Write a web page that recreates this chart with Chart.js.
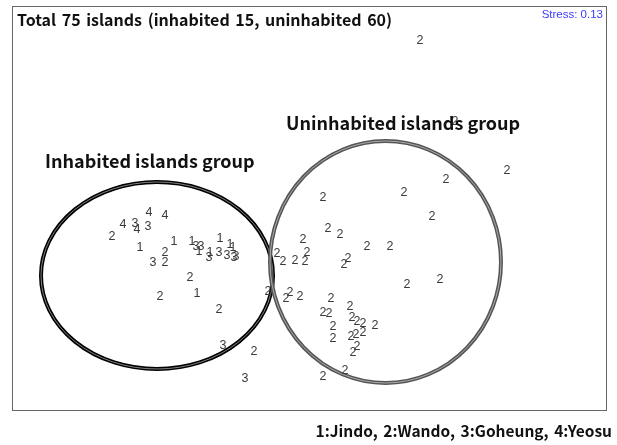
<!DOCTYPE html>
<html>
<head>
<meta charset="utf-8">
<script src="https://cdn.jsdelivr.net/npm/chart.js@4"></script>
<style>
    body { margin: 0; background: #fff; }
    #wrap { position: relative; width: 617px; height: 445px; }
    .note { position: absolute; white-space: nowrap; font-family: "Noto Sans CJK KR", "Noto Sans", sans-serif; color: #111; }
    #title { left: 17px; top: 7px; font-size: 16px; font-weight: bold; word-spacing: 2px; }
    #stress { right: 14px; top: 8px; font-size: 11.5px; color: #3b3bff; font-family: "Liberation Sans", sans-serif; }
    #grpA { left: 45px; top: 147px; font-size: 18px; font-weight: bold; }
    #grpB { left: 286px; top: 109px; font-size: 18px; font-weight: bold; }
    #key { right: 5px; top: 419px; font-size: 15.5px; font-weight: bold; word-spacing: 2px; }
</style>
</head>
<body>
<div id="wrap">
    <canvas id="nmds-chart" width="617" height="445"></canvas>
    <div class="note" id="title">Total 75 islands (inhabited 15, uninhabited 60)</div>
    <div class="note" id="stress">Stress: 0.13</div>
    <div class="note" id="grpA">Inhabited islands group</div>
    <div class="note" id="grpB">Uninhabited islands group</div>
    <div class="note" id="key">1:Jindo, 2:Wando, 3:Goheung, 4:Yeosu</div>
</div>
<script>
// region code of each island (1 Jindo, 2 Wando, 3 Goheung, 4 Yeosu)
const codes = [
    4, 4, 4, 3, 4, 3, 2, 1, 1, 2, 3, 2, 1, 3, 3, 1, 1, 3, 1, 3, 3, 1, 1, 3, 3,
    2, 2, 1, 2, 3, 2, 3,
    2, 2, 2, 2, 2, 2, 2, 2, 2, 2, 2, 2, 2, 2, 2, 2, 2, 2, 2, 2, 2, 2, 2, 2,
    2, 2, 2, 2, 2, 2, 2, 2, 2, 2, 2, 2, 2, 2, 2, 2, 2, 2, 2, 2, 2, 2
];
// ordination coordinates
const nmds1 = [
    149, 165, 123, 135, 137, 148, 112, 140, 174, 165, 153, 165, 192, 196, 201, 199, 210, 209, 220, 219, 227, 230, 233, 234, 236,
    190, 160, 197, 219, 223, 254, 245,
    420, 455, 507, 446, 404, 323, 432, 328, 340, 303, 367, 390, 277, 283, 295, 307, 305, 348, 344, 407, 440,
    268, 286, 290, 300, 331, 323, 329, 333, 350, 352, 357, 363, 375, 351, 356, 363, 333, 353, 357, 345, 323
];
const nmds2 = [
    213, 216, 225, 224, 230, 227, 237, 248, 242, 253, 263, 263, 242, 247, 247, 252, 253, 258, 239, 253, 256, 245, 248, 258, 257,
    278, 297, 294, 310, 346, 352, 379,
    41, 122, 171, 180, 193, 198, 217, 229, 235, 240, 247, 247, 254, 262, 261, 253, 262, 259, 265, 285, 280,
    292, 299, 293, 297, 299, 313, 314, 327, 307, 318, 322, 324, 326, 337, 335, 333, 339, 353, 347, 371, 377
];
// group ellipses: centre and radii in the same units
const groups = ['Inhabited', 'Uninhabited'];
const groupCx = [157, 385.5];
const groupCy = [275.5, 262];
const groupRx = [116, 115.5];
const groupRy = [93.5, 121];

document.addEventListener('DOMContentLoaded', function() {
    const points = nmds1.map(function(x, i) { return { x: x, y: nmds2[i], code: codes[i] }; });

    const drawExtras = {
        id: 'drawExtras',
        afterDatasetsDraw: function(chart) {
            const ctx = chart.ctx;
            const xs = chart.scales.x;
            const ys = chart.scales.y;
            const area = chart.chartArea;

            // frame
            ctx.save();
            ctx.strokeStyle = '#666';
            ctx.lineWidth = 1;
            ctx.strokeRect(area.left + 0.5, area.top + 0.5, area.width, area.height);

            // ellipses
            groups.forEach(function(g, i) {
                const cx = xs.getPixelForValue(groupCx[i]);
                const cy = ys.getPixelForValue(groupCy[i]);
                const rx = Math.abs(xs.getPixelForValue(groupCx[i] + groupRx[i]) - cx);
                const ry = Math.abs(ys.getPixelForValue(groupCy[i] + groupRy[i]) - cy);
                ctx.beginPath();
                ctx.ellipse(cx, cy, rx, ry, 0, 0, Math.PI * 2);
                ctx.strokeStyle = i === 0 ? '#000' : '#555';
                ctx.lineWidth = 4;
                ctx.stroke();
                ctx.strokeStyle = 'rgba(255,255,255,0.5)';
                ctx.lineWidth = 1;
                ctx.stroke();
            });

            // point labels
            ctx.font = '12.5px "Liberation Sans", sans-serif';
            ctx.fillStyle = '#3a3a3a';
            ctx.textAlign = 'center';
            ctx.textBaseline = 'middle';
            const meta = chart.getDatasetMeta(0);
            meta.data.forEach(function(el, i) {
                ctx.fillText(String(points[i].code), el.x, el.y);
            });
            ctx.restore();
        }
    };

    const ctx = document.getElementById('nmds-chart').getContext('2d');
    const nmdsChart = new Chart(ctx, {
        type: 'scatter',
        data: {
            datasets: [{
                label: 'Islands',
                data: points,
                pointRadius: 0,
                pointHoverRadius: 0
            }]
        },
        options: {
            responsive: false,
            animation: false,
            layout: {
                padding: { left: 12, top: 6, right: 11, bottom: 35 }
            },
            plugins: {
                legend: { display: false },
                tooltip: { enabled: false }
            },
            scales: {
                x: { type: 'linear', min: 12, max: 606, display: false },
                y: { type: 'linear', min: 6, max: 410, reverse: true, display: false }
            }
        },
        plugins: [drawExtras]
    });
});
</script>
</body>
</html>
